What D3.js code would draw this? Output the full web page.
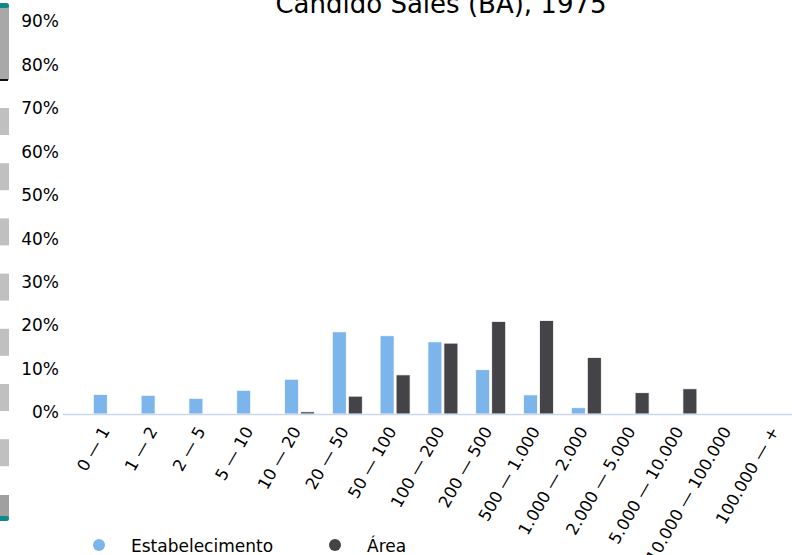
<!DOCTYPE html>
<html>
<head>
<meta charset="utf-8">
<script src="https://cdn.jsdelivr.net/npm/d3@7"></script>
<style>
  html, body { margin: 0; padding: 0; background: #fff; overflow: hidden; }
  svg { display: block; font-family: "DejaVu Sans", sans-serif; }
</style>
</head>
<body>
<svg id="chart" width="792" height="555"></svg>
<script>
const title = "Cândido Sales (BA), 1975";
const categories = ["0 — 1", "1 — 2", "2 — 5", "5 — 10", "10 — 20", "20 — 50", "50 — 100", "100 — 200", "200 — 500", "500 — 1.000", "1.000 — 2.000", "2.000 — 5.000", "5.000 — 10.000", "10.000 — 100.000", "100.000 — +"];
const seriesNames = ["Estabelecimento", "Área"];
const estabelecimento = [4.5, 4.3, 3.6, 5.45, 8.0, 18.9, 18.0, 16.6, 10.2, 4.4, 1.45, 0, 0, 0, 0];
const area = [0, 0, 0, 0, 0.5, 4.1, 9.0, 16.3, 21.3, 21.5, 13.0, 4.9, 5.8, 0, 0];
const yTicks = [0, 10, 20, 30, 40, 50, 60, 70, 80, 90];
const colors = ["#7cb5ec", "#434348"];

const svg = d3.select("#chart");

// left decorative strip (scrollbar-like)
const strip = svg.append("g");
strip.append("rect").attr("x", 0).attr("y", 5).attr("width", 9).attr("height", 75).attr("fill", "#a8a8a8");
strip.append("rect").attr("x", -4).attr("y", 3).attr("width", 13).attr("height", 5).attr("rx", 2.5).attr("fill", "#0b8a8a");
strip.append("rect").attr("x", 0).attr("y", 79).attr("width", 8).attr("height", 2).attr("fill", "#111");
d3.range(7).forEach(i => {
  strip.append("rect").attr("x", 0).attr("y", 108 + i * 55.2).attr("width", 9).attr("height", 27).attr("fill", "#c0c0c0");
});
strip.append("rect").attr("x", 0).attr("y", 495).attr("width", 9).attr("height", 23).attr("fill", "#a0a0a0");
strip.append("rect").attr("x", -4).attr("y", 516).attr("width", 13).attr("height", 5).attr("rx", 2.5).attr("fill", "#0b8a8a");

// scales
const x = d3.scaleBand().domain(categories).range([84.4, 801.4]);
const x1 = d3.scaleBand().domain(seriesNames).range([-15, 15]).paddingInner(0.125);
const y = d3.scaleLinear().domain([0, 90]).range([414, 22.7]);

// title
svg.append("text")
  .attr("x", 441).attr("y", 13)
  .attr("text-anchor", "middle")
  .attr("font-size", 26)
  .attr("fill", "#000")
  .text(title);

// y axis labels
const yAxis = d3.axisLeft(y).tickValues(yTicks).tickFormat(d => d + "%").tickSize(0).tickPadding(0);
const gy = svg.append("g").attr("transform", "translate(59,0)").call(yAxis);
gy.select(".domain").remove();
gy.selectAll("text").attr("font-size", 17).attr("font-family", "DejaVu Sans").attr("fill", "#000").attr("dy", "0.32em").attr("y", -1.5);

// bars
const data = categories.map((c, i) => ({ cat: c, values: [estabelecimento[i], area[i]] }));
const groups = svg.append("g").selectAll("g").data(data).join("g")
  .attr("transform", d => `translate(${x(d.cat) + x.bandwidth() / 2},0)`);
groups.selectAll("rect").data(d => d.values.map((v, j) => ({ name: seriesNames[j], v, j })).filter(e => e.v > 0))
  .join("rect")
  .attr("x", e => x1(e.name))
  .attr("width", x1.bandwidth())
  .attr("y", e => y(e.v))
  .attr("height", e => y(0) - y(e.v))
  .attr("fill", e => colors[e.j])
  .attr("stroke", "#fff")
  .attr("stroke-width", 0.8);

// x axis line
svg.append("line").attr("x1", 63).attr("x2", 792).attr("y1", 414.5).attr("y2", 414.5)
  .attr("stroke", "#ccd6eb").attr("stroke-width", 1.5);

// x labels
const xAxis = d3.axisBottom(x).tickSize(0).tickPadding(0);
const gx = svg.append("g").attr("transform", "translate(0,414)").call(xAxis);
gx.select(".domain").remove();
gx.selectAll("text")
  .attr("font-size", 16.5).attr("font-family", "DejaVu Sans").attr("fill", "#000")
  .attr("text-anchor", "end")
  .attr("dy", 0).attr("y", 0)
  .attr("transform", "translate(2,17) rotate(-60)");

// legend
const legend = svg.append("g").selectAll("g").data(seriesNames).join("g")
  .attr("transform", (d, i) => `translate(${99 + i * 236},545)`);
legend.append("circle").attr("r", 6).attr("fill", (d, i) => colors[i]);
legend.append("text").attr("x", 32).attr("y", 6.5).attr("font-size", 17).attr("fill", "#000").text(d => d);
</script>
</body>
</html>
